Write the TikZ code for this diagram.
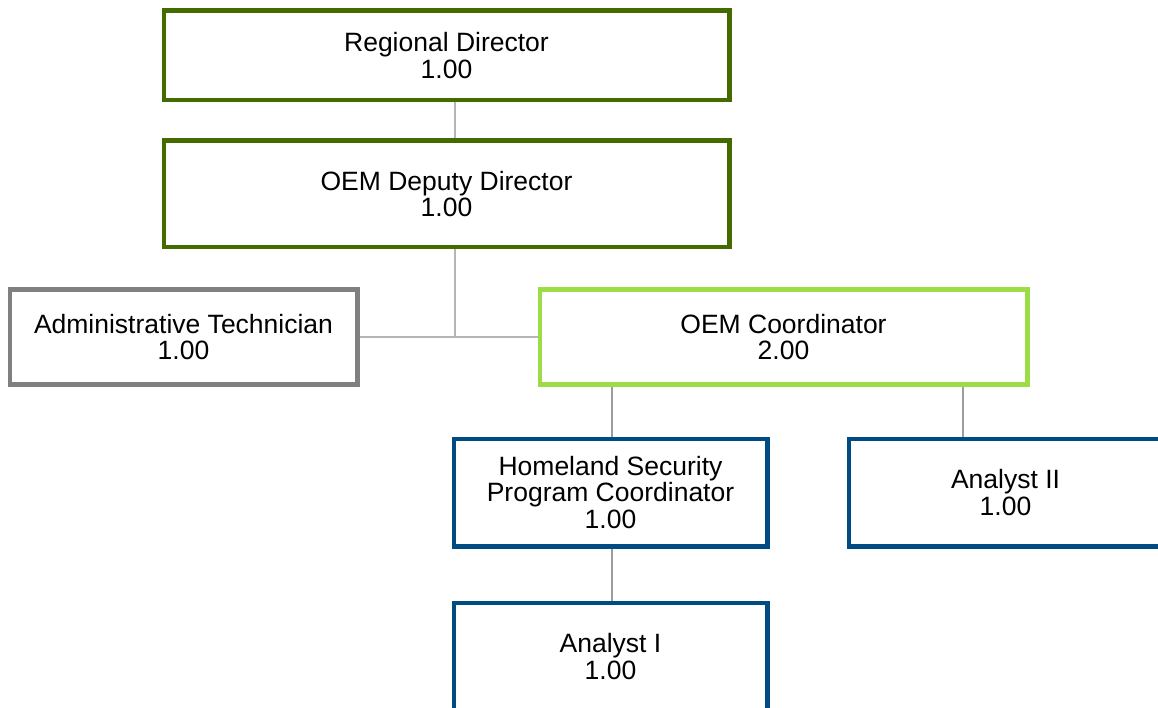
\documentclass[tikz,border=0pt]{standalone}
\usepackage{fontspec}
\setmainfont{Liberation Sans}
\definecolor{dgreen}{HTML}{436B00}
\definecolor{lgreen}{HTML}{9CDC45}
\definecolor{boxgray}{HTML}{808080}
\definecolor{dblue}{HTML}{004B81}
\definecolor{linegray}{HTML}{B5B5B5}
\definecolor{linegrayd}{HTML}{9E9E9E}
\begin{document}
\begin{tikzpicture}[x=1pt,y=-1pt,
  box/.style={draw, line width=3pt, fill=white, align=center, inner sep=0pt,
    font=\fontsize{26.5}{26.5}\selectfont, text=black},
  topbox/.style={box, draw=dgreen},
  graybox/.style={box, draw=boxgray},
  coordbox/.style={box, draw=lgreen},
  bluebox/.style={box, draw=dblue},
  conn/.style={draw=linegray, line width=2.3pt},
  connd/.style={draw=linegrayd, line width=2.3pt}]
\clip (0,0) rectangle (1158,708);
\useasboundingbox (0,0) rectangle (1158,708);
\fill[white] (0,0) rectangle (1158,708);

\node[topbox, minimum width=564pt, minimum height=88pt] (rd) at (446.5,55.5) {Regional Director\\1.00};
\node[topbox, minimum width=564pt, minimum height=105pt] (dd) at (446.5,194) {OEM Deputy Director\\1.00};
\node[graybox, minimum width=346pt, minimum height=93pt] (adm) at (183.5,337) {Administrative Technician\\1.00};
\node[coordbox, minimum width=486pt, minimum height=93pt] (co) at (783.5,337) {OEM Coordinator\\2.00};
\node[bluebox, minimum width=312pt, minimum height=106pt] (hs) at (610.5,492.5) {Homeland Security\\Program Coordinator\\1.00};
\node[bluebox, minimum width=312pt, minimum height=106pt] (a2) at (1005.5,492.5) {Analyst II\\1.00};
\node[bluebox, minimum width=312pt, minimum height=106pt] (a1) at (610.5,656.5) {Analyst I\\1.00};

\coordinate (trunk) at (455,0);
\coordinate (c1) at (612,0);
\coordinate (c2) at (963,0);

\draw[conn] (rd.south -| trunk) -- (dd.north -| trunk);
\draw[conn] (dd.south -| trunk) -- (trunk |- adm.east);
\draw[conn] (adm.east) -- (co.west);
\draw[connd] (co.south -| c1) -- (hs.north -| c1);
\draw[connd] (co.south -| c2) -- (a2.north -| c2);
\draw[connd] (hs.south -| c1) -- (a1.north -| c1);

% redraw borders on top of connector ends
\draw[dgreen, line width=3pt] (rd.south west) rectangle (rd.north east);
\draw[dgreen, line width=3pt] (dd.south west) rectangle (dd.north east);
\draw[boxgray, line width=3pt] (adm.south west) rectangle (adm.north east);
\draw[lgreen, line width=3pt] (co.south west) rectangle (co.north east);
\draw[dblue, line width=3pt] (hs.south west) rectangle (hs.north east);
\draw[dblue, line width=3pt] (a2.south west) rectangle (a2.north east);
\draw[dblue, line width=3pt] (a1.south west) rectangle (a1.north east);
\end{tikzpicture}
\end{document}
